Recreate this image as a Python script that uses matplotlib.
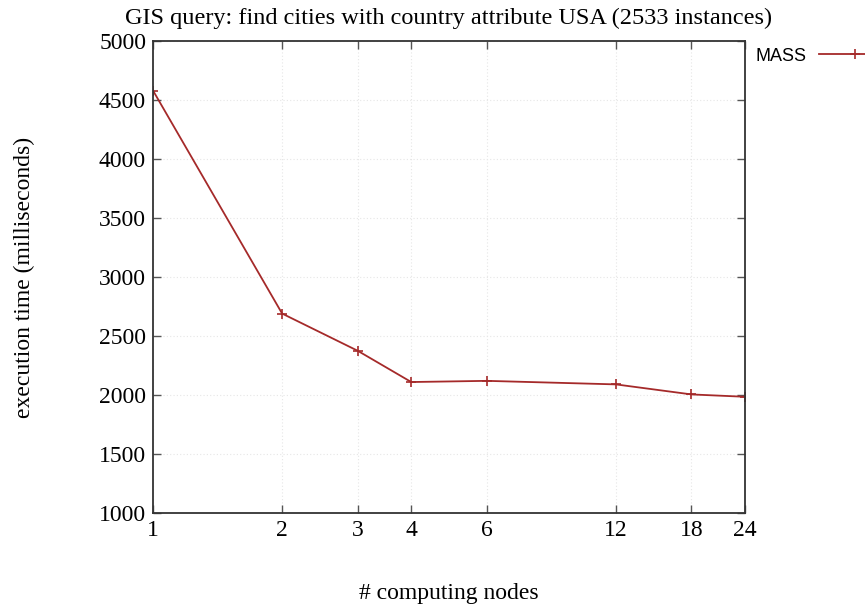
import matplotlib
matplotlib.use("Agg")
import matplotlib.pyplot as plt
from matplotlib.ticker import FixedLocator, FixedFormatter, NullLocator

nodes = [1, 2, 3, 4, 6, 12, 18, 24]
times = [4580, 2690, 2375, 2110, 2120, 2090, 2005, 1985]
xtick_labels = ["1", "2", "3", "4", "6", "12", "18", "24"]
yticks = [1000, 1500, 2000, 2500, 3000, 3500, 4000, 4500, 5000]

serif = ["Liberation Serif", "DejaVu Serif"]
fig = plt.figure(figsize=(8.65, 6.09), dpi=100)
ax = fig.add_axes([0.1769, 0.1576, 0.6844, 0.7751])

ax.plot(nodes, times, color="#a52a2a", linewidth=1.3, marker="+", markersize=7,
        markeredgewidth=1.2, label="MASS")
ax.set_xscale("log", base=2)
ax.set_xlim(1, 24)
ax.set_ylim(1000, 5000)
ax.xaxis.set_major_locator(FixedLocator(nodes))
ax.xaxis.set_major_formatter(FixedFormatter(xtick_labels))
ax.xaxis.set_minor_locator(NullLocator())
ax.set_yticks(yticks)
ax.set_yticklabels([str(v) for v in yticks])

ax.grid(True, color="#e6e6e6", linestyle=(0, (1, 2)), linewidth=0.8)
ax.tick_params(direction="in", length=6, width=1, color="#555555", top=True, right=True,
               labelsize=17, pad=5)
for lab in ax.get_xticklabels() + ax.get_yticklabels():
    lab.set_fontfamily(serif)
for s in ax.spines.values():
    s.set_linewidth(1.3)
    s.set_color("#333333")

ax.set_title("GIS query: find cities with country attribute USA (2533 instances)",
             fontsize=17.5, family=serif, pad=12)
ax.set_xlabel("# computing nodes", fontsize=17, family=serif, labelpad=30)
ax.set_ylabel("execution time (milliseconds)", fontsize=17, family=serif, labelpad=46)

leg = ax.legend(loc="upper left", bbox_to_anchor=(0.99, 1.02), frameon=False,
                markerfirst=False, handlelength=4.0, handletextpad=0.7,
                prop={"family": "Liberation Sans", "size": 13})

fig.savefig("out.png", dpi=100)
